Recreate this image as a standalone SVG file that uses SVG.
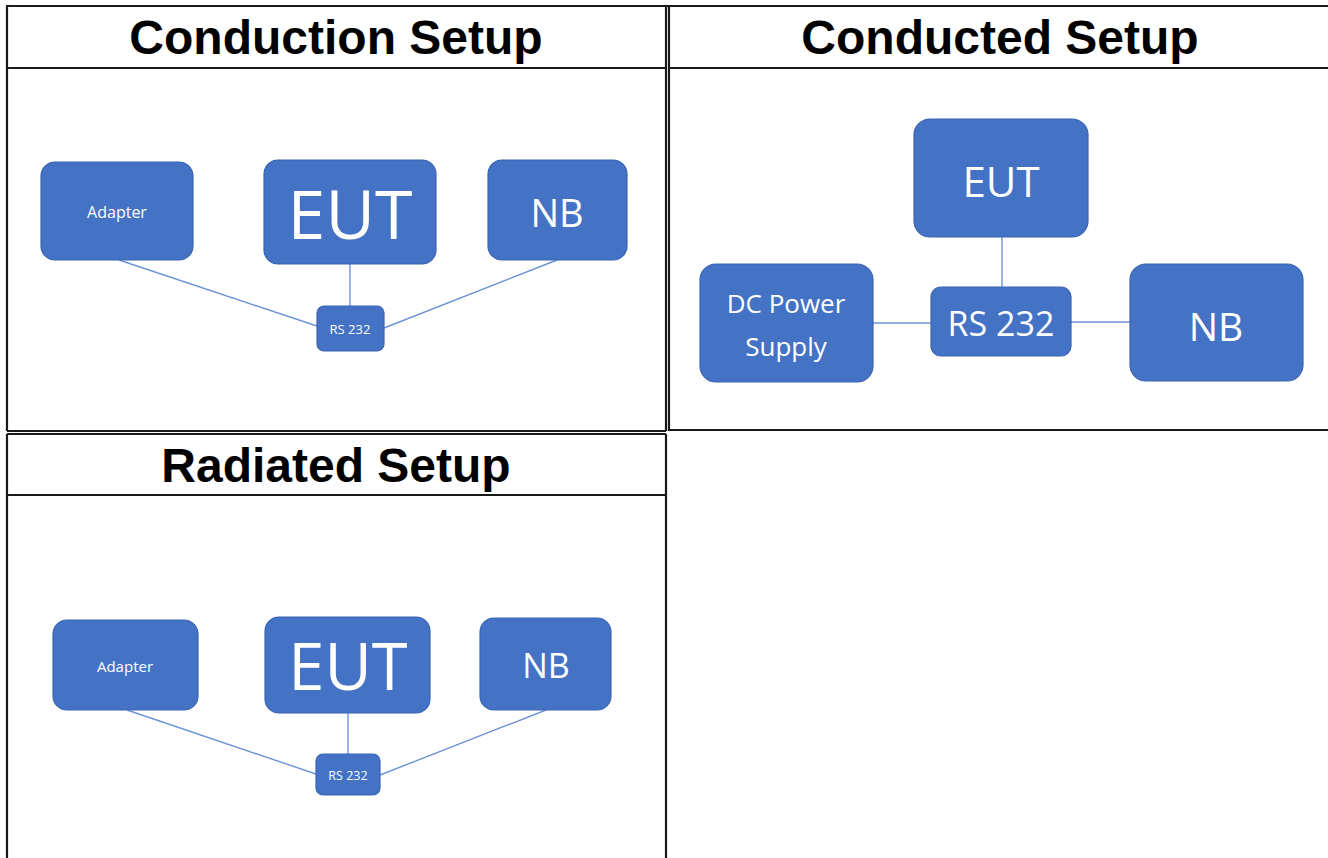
<svg xmlns="http://www.w3.org/2000/svg" width="1328" height="858" viewBox="0 0 1328 858">
<style>
.bg{fill:#ffffff}
.grid{stroke:#1a1a1a;stroke-width:2.2;fill:none}
.title{font-family:"Liberation Sans",Arial,sans-serif;font-weight:bold;font-size:48px;fill:#000;text-anchor:middle}
.box{fill:#4472C4;stroke:#3A64B0;stroke-width:1.2}
.lbl{font-family:"Open Sans","Noto Sans",sans-serif;fill:#ffffff;text-anchor:middle;dominant-baseline:central}
.wire{stroke:#6E93D6;stroke-width:1.4;fill:none}
</style>
<rect class="bg" x="0" y="0" width="1328" height="858"/>
<g id="table">
<path class="grid" d="M6 6H1328 M7 6V431 M7 434V858 M7 68H666 M669 68H1328 M666 6V431 M669 6V431 M7 431H666 M669 430H1328 M7 434H666 M666 434V858 M7 495H666"/>
<text class="title" x="336" y="54">Conduction Setup</text>
<text class="title" x="1000" y="54">Conducted Setup</text>
<text class="title" x="336" y="482">Radiated Setup</text>
</g>
<g id="connectors">
<line class="wire" x1="119" y1="260" x2="317" y2="326"/>
<line class="wire" x1="350" y1="264" x2="350" y2="306"/>
<line class="wire" x1="557" y1="260" x2="384" y2="328"/>
<line class="wire" x1="1002" y1="237" x2="1002" y2="287"/>
<line class="wire" x1="873" y1="323" x2="931" y2="323"/>
<line class="wire" x1="1071" y1="322" x2="1130" y2="322"/>
<line class="wire" x1="127" y1="710" x2="316" y2="774"/>
<line class="wire" x1="348" y1="713" x2="348" y2="754"/>
<line class="wire" x1="546" y1="710" x2="380" y2="775"/>
</g>
<g id="c1-adapter"><rect class="box" x="41" y="162" width="152" height="98" rx="14"/><text class="lbl" x="117" y="212" font-size="16">Adapter</text></g>
<g id="c1-eut"><rect class="box" x="264" y="160" width="172" height="104" rx="14"/><text class="lbl" x="350" y="212" font-size="68">EUT</text></g>
<g id="c1-nb"><rect class="box" x="488" y="160" width="139" height="100" rx="14"/><text class="lbl" x="557" y="212" font-size="38">NB</text></g>
<g id="c1-rs232"><rect class="box" x="317" y="306" width="67" height="45" rx="7"/><text class="lbl" x="350" y="329" font-size="13">RS 232</text></g>
<g id="c2-eut"><rect class="box" x="914" y="119" width="174" height="118" rx="16"/><text class="lbl" x="1001" y="180" font-size="42">EUT</text></g>
<g id="c2-dc"><rect class="box" x="700" y="264" width="173" height="118" rx="16"/><text class="lbl" x="786" y="303" font-size="26">DC Power</text><text class="lbl" x="786" y="346" font-size="26">Supply</text></g>
<g id="c2-rs232"><rect class="box" x="931" y="287" width="140" height="69" rx="10"/><text class="lbl" x="1001" y="323" font-size="34">RS 232</text></g>
<g id="c2-nb"><rect class="box" x="1130" y="264" width="173" height="117" rx="16"/><text class="lbl" x="1216" y="325" font-size="39">NB</text></g>
<g id="r-adapter"><rect class="box" x="53" y="620" width="145" height="90" rx="14"/><text class="lbl" x="125" y="666" font-size="15">Adapter</text></g>
<g id="r-eut"><rect class="box" x="265" y="617" width="165" height="96" rx="14"/><text class="lbl" x="348" y="665" font-size="65">EUT</text></g>
<g id="r-nb"><rect class="box" x="480" y="618" width="131" height="92" rx="14"/><text class="lbl" x="546" y="665" font-size="34">NB</text></g>
<g id="r-rs232"><rect class="box" x="316" y="754" width="64" height="41" rx="7"/><text class="lbl" x="348" y="775" font-size="12.5">RS 232</text></g>
</svg>
